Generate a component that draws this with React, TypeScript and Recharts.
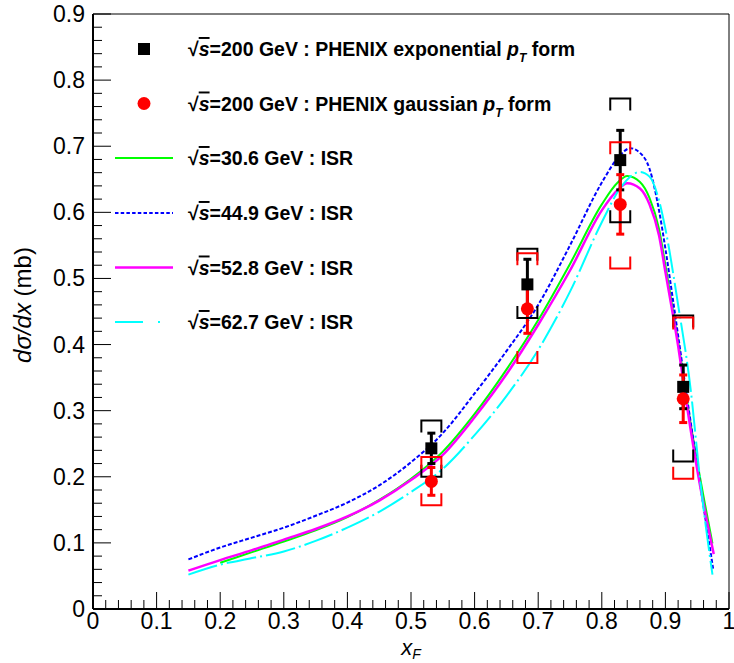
import React from "react";
import {
  ComposedChart,
  Line,
  Scatter,
  XAxis,
  YAxis,
  ErrorBar,
  ReferenceArea,
  Legend,
} from "recharts";

const FONT = '"Liberation Sans", Arial, Helvetica, sans-serif';

// ISR curves, x_F vs dsigma/dx (mb)
const isr306X = [0.2, 0.25, 0.3, 0.35, 0.4, 0.45, 0.5, 0.55, 0.6, 0.65, 0.7, 0.75, 0.8, 0.825, 0.84, 0.86, 0.875, 0.89, 0.9, 0.92, 0.94, 0.96, 0.974];
const isr306Y = [0.07, 0.086, 0.102, 0.119, 0.139, 0.165, 0.197, 0.238, 0.295, 0.362, 0.437, 0.522, 0.612, 0.645, 0.655, 0.646, 0.622, 0.575, 0.52, 0.405, 0.278, 0.17, 0.099];

const isr449X = [0.15, 0.2, 0.25, 0.3, 0.35, 0.4, 0.45, 0.5, 0.55, 0.6, 0.65, 0.7, 0.75, 0.8, 0.825, 0.845, 0.86, 0.875, 0.89, 0.9, 0.912, 0.937, 0.96, 0.975];
const isr449Y = [0.075, 0.093, 0.108, 0.123, 0.141, 0.161, 0.187, 0.222, 0.266, 0.326, 0.39, 0.46, 0.55, 0.645, 0.682, 0.697, 0.69, 0.666, 0.603, 0.545, 0.467, 0.3, 0.155, 0.061];

const isr528X = [0.15, 0.2, 0.25, 0.3, 0.35, 0.4, 0.45, 0.5, 0.55, 0.6, 0.65, 0.7, 0.75, 0.8, 0.825, 0.84, 0.86, 0.875, 0.89, 0.9, 0.92, 0.935, 0.952, 0.976];
const isr528Y = [0.058, 0.074, 0.089, 0.105, 0.121, 0.14, 0.164, 0.195, 0.233, 0.29, 0.355, 0.43, 0.512, 0.603, 0.634, 0.644, 0.636, 0.612, 0.565, 0.51, 0.398, 0.3, 0.2, 0.083];

const isr627X = [0.15, 0.2, 0.25, 0.3, 0.35, 0.4, 0.45, 0.5, 0.55, 0.6, 0.65, 0.7, 0.75, 0.8, 0.83, 0.86, 0.875, 0.89, 0.9, 0.92, 0.94, 0.954, 0.974];
const isr627Y = [0.052, 0.067, 0.077, 0.087, 0.103, 0.123, 0.147, 0.177, 0.212, 0.263, 0.322, 0.392, 0.48, 0.585, 0.638, 0.661, 0.654, 0.618, 0.575, 0.46, 0.33, 0.2, 0.052];

// PHENIX sqrt(s)=200 GeV points
const phenixX = [0.532, 0.683, 0.829, 0.928];
const expY = [0.243, 0.491, 0.679, 0.336];
const expStat = [0.023, 0.038, 0.045, 0.033];
const expSysHi = [0.285, 0.545, 0.772, 0.444];
const expSysLo = [0.2, 0.44, 0.585, 0.223];
const gausY = [0.193, 0.454, 0.612, 0.318];
const gausStat = [0.021, 0.037, 0.045, 0.036];
const gausSysHi = [0.23, 0.538, 0.706, 0.441];
const gausSysLo = [0.157, 0.372, 0.515, 0.197];

const xMajor = [0, 0.1, 0.2, 0.3, 0.4, 0.5, 0.6, 0.7, 0.8, 0.9, 1];
const yMajor = [0, 0.1, 0.2, 0.3, 0.4, 0.5, 0.6, 0.7, 0.8, 0.9];

const withMinor = (major: number[]) => {
  const out: number[] = [];
  major.forEach((v, i) => {
    out.push(v);
    if (i < major.length - 1) {
      const step = (major[i + 1] - v) / 5;
      for (let k = 1; k < 5; k++) out.push(v + k * step);
    }
  });
  return out;
};

const xTicks = withMinor(xMajor);
const yTicks = withMinor(yMajor);

const pts = (xs: number[], ys: number[]) => xs.map((x, i) => ({ x, y: ys[i] }));
const withErr = (ys: number[], errs: number[]) =>
  phenixX.map((x, i) => ({ x, y: ys[i], err: errs[i] }));

const isMajor = (v: number) => Math.abs(v * 10 - Math.round(v * 10)) < 1e-6;
const fmt = (v: number) => {
  const r = Math.round(v * 10) / 10;
  return r === 0 ? "0" : r === 1 ? "1" : r.toFixed(1);
};

const XTick = (props: any) => {
  const { x, y, payload } = props;
  const major = isMajor(payload.value);
  return (
    <g>
      <line x1={x} x2={x} y1={y} y2={y - (major ? 17 : 9)} stroke="#000" />
      {major && (
        <text x={x} y={y + 20} textAnchor="middle" fontSize={23} fontFamily={FONT} fill="#000">
          {fmt(payload.value)}
        </text>
      )}
    </g>
  );
};

const YTick = (props: any) => {
  const { x, y, payload } = props;
  const major = isMajor(payload.value);
  return (
    <g>
      <line x1={x} x2={x + (major ? 18 : 9)} y1={y} y2={y} stroke="#000" />
      {major && (
        <text x={x - 8} y={y + 8} textAnchor="end" fontSize={23} fontFamily={FONT} fill="#000">
          {fmt(payload.value)}
        </text>
      )}
    </g>
  );
};

const square = (p: any) => <rect x={p.cx - 6} y={p.cy - 6} width={12} height={12} fill="#000" />;
const circle = (p: any) => <circle cx={p.cx} cy={p.cy} r={6.5} fill="#ff0000" />;

const bracketTop = (color: string) => (p: any) => (
  <path d={`M${p.cx - 10},${p.cy + 12}V${p.cy}H${p.cx + 10}V${p.cy + 12}`} fill="none" stroke={color} strokeWidth={2} />
);
const bracketLow = (color: string) => (p: any) => (
  <path d={`M${p.cx - 10},${p.cy - 12}V${p.cy}H${p.cx + 10}V${p.cy - 12}`} fill="none" stroke={color} strokeWidth={2} />
);

const SqrtS = () => (
  <>
    <tspan>√</tspan>
    <tspan fontStyle="italic" textDecoration="overline">s</tspan>
  </>
);

const LegendBox = () => {
  const rows = [
    { c: 49, label: "=200 GeV : PHENIX exponential ", pt: true },
    { c: 103.5, label: "=200 GeV : PHENIX gaussian ", pt: true },
    { c: 158, label: "=30.6 GeV : ISR" },
    { c: 213, label: "=44.9 GeV : ISR" },
    { c: 267.5, label: "=52.8 GeV : ISR" },
    { c: 322, label: "=62.7 GeV : ISR" },
  ];
  return (
    <svg width={734} height={663} style={{ position: "absolute", left: 0, top: 0 }}>
      <rect x={138} y={43} width={12} height={12} fill="#000" />
      <circle cx={144} cy={103.5} r={6.5} fill="#ff0000" />
      <line x1={115} x2={173} y1={158} y2={158} stroke="#00ff00" strokeWidth={2} />
      <line x1={115} x2={173} y1={213} y2={213} stroke="#0000ff" strokeWidth={2} strokeDasharray="3.5 2.2" />
      <line x1={115} x2={173} y1={267.5} y2={267.5} stroke="#ff00ff" strokeWidth={2.5} />
      <line x1={115} x2={173} y1={322} y2={322} stroke="#00ffff" strokeWidth={2} strokeDasharray="28 15 2 40" />
      {rows.map((r, i) => (
        <text key={i} x={188} y={r.c + 7} fontSize={19.5} fontWeight="bold" fontFamily={FONT} fill="#000">
          <SqrtS />
          <tspan>{r.label}</tspan>
          {r.pt && (
            <>
              <tspan fontStyle="italic">p</tspan>
              <tspan fontStyle="italic" fontSize={12} dy={6}>T</tspan>
              <tspan dy={-6}> form</tspan>
            </>
          )}
        </text>
      ))}
      <text x={411} y={655} textAnchor="middle" fontSize={22} fontFamily={FONT} fill="#000">
        <tspan fontStyle="italic">x</tspan>
        <tspan fontStyle="italic" fontSize={14} dy={4}>F</tspan>
      </text>
      <text x={31} y={305} transform="rotate(-90 31 305)" textAnchor="middle" fontSize={24} fontFamily={FONT} fill="#000">
        <tspan fontStyle="italic">dσ/dx</tspan>
        <tspan> (mb)</tspan>
      </text>
    </svg>
  );
};

export default function App() {
  return (
    <div style={{ width: 734, height: 663 }}>
      <style>{`body{margin:0;background:#fff}`}</style>
      <ComposedChart width={734} height={663} margin={{ top: 14, right: 5, bottom: 0, left: 0 }}>
        <XAxis
          type="number"
          dataKey="x"
          domain={[0, 1]}
          ticks={xTicks}
          interval={0}
          height={54}
          tickSize={0}
          tickMargin={0}
          tickLine={false}
          tick={<XTick />}
          axisLine={{ stroke: "#000", strokeWidth: 2 }}
          allowDataOverflow
        />
        <YAxis
          type="number"
          dataKey="y"
          domain={[0, 0.9]}
          ticks={yTicks}
          interval={0}
          width={93}
          tickSize={0}
          tickMargin={0}
          tickLine={false}
          tick={<YTick />}
          axisLine={{ stroke: "#000", strokeWidth: 2 }}
          allowDataOverflow
        />
        <ReferenceArea x1={0} x2={1} y1={0} y2={0.9} fill="none" stroke="#000" strokeWidth={1} />
        <Line data={pts(isr306X, isr306Y)} dataKey="y" type="monotone" stroke="#00ff00" strokeWidth={2} dot={false} isAnimationActive={false} />
        <Line data={pts(isr449X, isr449Y)} dataKey="y" type="monotone" stroke="#0000ff" strokeWidth={2} strokeDasharray="4 2" dot={false} isAnimationActive={false} />
        <Line data={pts(isr528X, isr528Y)} dataKey="y" type="monotone" stroke="#ff00ff" strokeWidth={2.5} dot={false} isAnimationActive={false} />
        <Line data={pts(isr627X, isr627Y)} dataKey="y" type="monotone" stroke="#00ffff" strokeWidth={2} strokeDasharray="30 4 2 4" dot={false} isAnimationActive={false} />
        <Scatter data={pts(phenixX, expSysHi)} dataKey="y" shape={bracketTop("#000")} isAnimationActive={false} />
        <Scatter data={pts(phenixX, expSysLo)} dataKey="y" shape={bracketLow("#000")} isAnimationActive={false} />
        <Scatter data={withErr(expY, expStat)} dataKey="y" shape={square} isAnimationActive={false}>
          <ErrorBar dataKey="err" direction="y" width={4} strokeWidth={3} stroke="#000" isAnimationActive={false} />
        </Scatter>
        <Scatter data={pts(phenixX, gausSysHi)} dataKey="y" shape={bracketTop("#ff0000")} isAnimationActive={false} />
        <Scatter data={pts(phenixX, gausSysLo)} dataKey="y" shape={bracketLow("#ff0000")} isAnimationActive={false} />
        <Scatter data={withErr(gausY, gausStat)} dataKey="y" shape={circle} isAnimationActive={false}>
          <ErrorBar dataKey="err" direction="y" width={4} strokeWidth={3} stroke="#ff0000" isAnimationActive={false} />
        </Scatter>
        <Legend
          layout="vertical"
          align="center"
          verticalAlign="middle"
          content={() => <LegendBox />}
          wrapperStyle={{ left: 0, top: 0, width: 734, height: 663, pointerEvents: "none" }}
        />
      </ComposedChart>
    </div>
  );
}
